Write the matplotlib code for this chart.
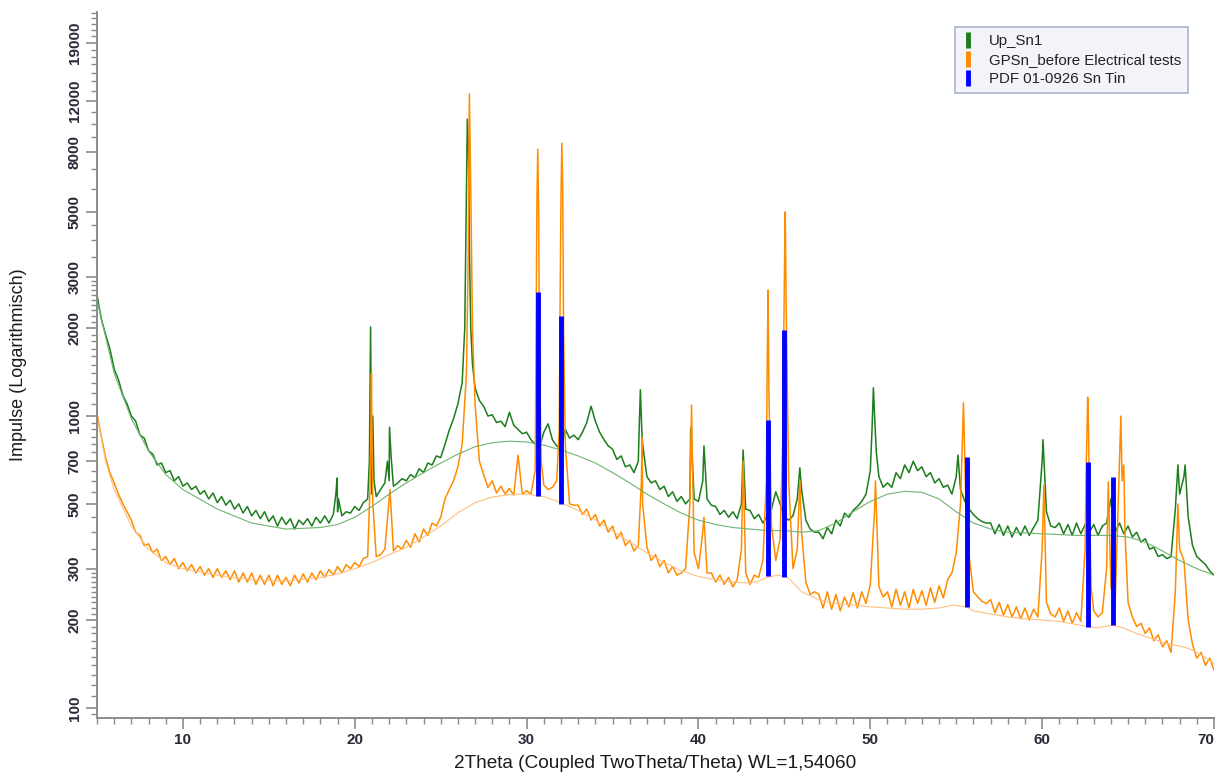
import numpy as np
import matplotlib
matplotlib.use('Agg')
from matplotlib import pyplot as plt
from matplotlib.lines import Line2D
from matplotlib.ticker import FixedLocator, NullFormatter

plt.rcParams['font.family'] = ['Liberation Sans', 'DejaVu Sans']

# scan sampling: 5..70 deg, 0.25 deg step
SCAN_START = 5.0
SCAN_STEP = 0.25

green_base = [
    2600, 2150, 1900, 1700, 1450, 1330, 1180, 1100,   # 5
    1000, 960, 860, 840, 760, 740, 680, 690,          # 7
    640, 650, 600, 620, 575, 590, 560, 575,           # 9
    540, 555, 520, 545, 505, 530, 495, 515,           # 11
    480, 500, 465, 490, 455, 475, 445, 470,           # 13
    435, 455, 420, 450, 425, 445, 410, 440,           # 15
    425, 445, 420, 450, 430, 455, 430, 460,           # 17
    470, 455, 470, 465, 490, 475, 505, 520,           # 19
    540, 530, 560, 590, 600, 575, 590, 610,           # 21
    600, 630, 615, 660, 640, 690, 680, 730,           # 23
    720, 800, 895, 980, 1100, 1300, 6000, 2000,       # 25
    1250, 1130, 1080, 1000, 1010, 950, 960, 920,      # 27
    1030, 930, 900, 870, 880, 830, 800, 780,          # 29
    880, 940, 830, 790, 770, 900, 840, 860,           # 31
    830, 880, 950, 1080, 960, 880, 830, 790,          # 33
    770, 710, 730, 670, 680, 640, 700, 800,           # 35
    620, 590, 600, 560, 575, 530, 550, 510,           # 37
    530, 500, 520, 520, 510, 600, 520, 495,           # 39
    490, 460, 475, 450, 470, 445, 500, 480,           # 41
    475, 445, 460, 430, 455, 480, 550, 500,           # 43
    450, 440, 455, 520, 560, 440, 410, 400,           # 45
    400, 380, 415, 395, 440, 420, 465, 450,           # 47
    475, 490, 510, 540, 650, 1000, 620, 570,          # 49
    590, 570, 640, 610, 680, 640, 700, 650,           # 51
    670, 620, 640, 590, 610, 570, 580, 540,           # 53
    620, 560, 510, 480, 460, 445, 435, 430,           # 55
    430, 395, 425, 390, 420, 385, 415, 390,           # 57
    420, 390, 415, 440, 700, 470, 420, 415,           # 59
    430, 395, 425, 390, 430, 395, 425, 400,           # 61
    425, 390, 420, 430, 520, 400, 430, 395,           # 63
    420, 385, 400, 370, 380, 350, 355, 330,           # 65
    335, 325, 330, 480, 540, 620, 450, 360,           # 67
    330, 320, 310, 295, 285,                          # 69
]

green_peaks = [
    (18.9, 540), (18.97, 613), (19.05, 520),
    (20.85, 700), (20.92, 2020), (21.05, 1000), (21.12, 600),
    (21.9, 700), (22.02, 915), (22.12, 720),
    (26.4, 2000), (26.55, 10400), (26.62, 8000), (26.68, 3500), (26.85, 1500),
    (36.55, 900), (36.62, 1230), (36.7, 900),
    (39.55, 910),
    (40.32, 790),
    (42.6, 765),
    (45.9, 665),
    (50.1, 900), (50.18, 1250), (50.35, 750),
    (55.1, 735),
    (60.05, 830),
    (67.9, 680),
    (68.32, 680),
]

orange_base = [
    1020, 850, 720, 640, 590, 540, 500, 470,          # 5
    440, 400, 390, 360, 365, 340, 350, 320,           # 7
    330, 310, 325, 300, 315, 295, 310, 290,           # 9
    305, 285, 300, 280, 300, 280, 295, 275,           # 11
    295, 270, 290, 270, 290, 265, 285, 265,           # 13
    285, 262, 285, 265, 280, 262, 285, 268,           # 15
    288, 270, 290, 275, 295, 280, 298, 285,           # 17
    305, 290, 310, 300, 315, 305, 325, 330,           # 19
    900, 330, 335, 350, 520, 345, 360, 350,           # 21
    375, 355, 395, 370, 410, 390, 430, 420,           # 23
    450, 520, 560, 600, 670, 800, 1400, 6000,         # 25
    1100, 700, 630, 570, 600, 545, 575, 540,          # 27
    565, 535, 735, 540, 555, 540, 650, 1500,          # 29
    580, 560, 570, 600, 5500, 800, 500, 495,          # 31
    495, 460, 480, 440, 460, 420, 440, 400,           # 33
    420, 380, 400, 360, 375, 345, 360, 500,           # 35
    355, 320, 335, 305, 320, 290, 305, 285,           # 37
    290, 300, 500, 340, 300, 400, 290, 290,           # 39
    270, 285, 265, 280, 260, 275, 350, 290,           # 41
    265, 285, 280, 320, 1500, 420, 320, 380,          # 43
    3000, 600, 300, 350, 400, 270, 245, 250,          # 45
    245, 220, 250, 218, 245, 215, 240, 222,           # 47
    248, 220, 250, 228, 265, 480, 260, 240,           # 49
    250, 222, 255, 225, 250, 220, 255, 228,           # 51
    252, 225, 258, 230, 262, 238, 275, 290,           # 53
    340, 500, 700, 330, 250, 240, 232, 228,           # 55
    235, 212, 230, 208, 226, 205, 222, 202,           # 57
    220, 200, 218, 205, 350, 230, 210, 205,           # 59
    220, 198, 215, 195, 212, 198, 350, 500,           # 61
    215, 205, 212, 300, 260, 230, 700, 680,           # 63
    230, 205, 190, 195, 180, 188, 170, 178,           # 65
    162, 170, 155, 250, 350, 320, 200, 165,           # 67
    148, 155, 140, 148, 135,                          # 69
]

orange_peaks = [
    (20.9, 600), (20.97, 1400), (21.05, 500),
    (22.05, 560),
    (26.6, 3500), (26.67, 12700), (26.85, 2000),
    (30.55, 2000), (30.6, 5500), (30.65, 8200), (30.7, 5000), (30.85, 700),
    (31.9, 900), (31.95, 2500), (32.05, 8600), (32.1, 6000), (32.15, 2000),
    (36.68, 600), (36.72, 845),
    (39.6, 1090), (39.65, 700),
    (40.32, 450),
    (42.6, 700),
    (43.95, 600), (44.05, 2700), (44.1, 1200),
    (44.9, 800), (45.05, 5000), (45.1, 2500),
    (45.9, 600),
    (50.3, 600),
    (55.35, 800), (55.42, 1110), (55.6, 400),
    (60.1, 580),
    (62.55, 600), (62.65, 1160), (62.7, 900), (62.85, 260),
    (63.85, 595),
    (64.58, 1000), (64.65, 600), (64.82, 400),
    (67.9, 500),
]

green_bg = [
    (5, 2500), (6, 1400), (7, 980), (8, 760), (9, 630), (10, 560), (12, 480),
    (14, 430), (16, 410), (18, 415), (19, 425), (20, 450), (21, 490), (22, 540),
    (23, 590), (24, 640), (25, 690), (26, 740), (27, 785), (28, 810), (29, 820),
    (30, 815), (31, 795), (32, 765), (33, 730), (34, 690), (35, 640), (36, 590),
    (37, 540), (38, 500), (39, 465), (40, 440), (41, 425), (42, 415), (43, 410),
    (44, 405), (45, 405), (46, 400), (47, 405), (48, 430), (49, 470), (50, 510),
    (51, 540), (52, 552), (53, 548), (54, 520), (55, 470), (56, 430), (57, 410),
    (58, 400), (60, 395), (62, 390), (64, 390), (65, 385), (66, 370), (67, 345),
    (68, 320), (69, 300), (70, 285),
]

orange_bg = [
    (5, 1000), (5.5, 700), (6, 560), (7, 420), (8, 350), (9, 315), (10, 300),
    (12, 285), (14, 275), (16, 272), (18, 280), (19, 288), (20, 300), (21, 315),
    (22, 335), (23, 355), (24, 385), (25, 420), (26, 466), (27, 505), (28, 528),
    (29, 538), (30, 540), (31, 530), (32, 505), (33, 475), (34, 440), (35, 405),
    (36, 370), (37, 340), (38, 315), (39, 295), (40, 282), (41, 275), (42, 270),
    (43, 268), (43.5, 272), (44, 280), (44.6, 285), (45.2, 280), (45.6, 265),
    (46, 250), (47, 235), (48, 228), (49, 225), (50, 222), (51, 220), (52, 218),
    (53, 218), (54, 220), (54.8, 225), (55.6, 222), (56, 215), (57, 210),
    (58, 205), (59, 202), (60, 200), (61, 198), (62, 193), (62.7, 190),
    (63.2, 188), (63.6, 190), (64.1, 192), (64.7, 188), (65.5, 180), (66.5, 172),
    (67, 168), (67.5, 165), (68, 163), (68.5, 160), (69, 155), (70, 142),
]

# PDF 01-0926 Sn sticks
stick_pos = [30.65, 32.0, 44.05, 45.0, 55.6, 62.65, 64.12]
stick_low = [532, 500, 284, 281, 222, 190, 192]
stick_high = [2660, 2200, 968, 1970, 724, 696, 618]

y_labels = [100, 200, 300, 500, 700, 1000, 2000, 3000, 5000, 8000, 12000, 19000]
x_labels = [10, 20, 30, 40, 50, 60, 70]
legend_labels = ['Up_Sn1', 'GPSn_before Electrical tests', 'PDF 01-0926 Sn Tin']

GREEN = '#1b7d1b'
ORANGE = '#ff8c00'
AXCOL = '#8a8a8a'
TXT = '#2a2a38'


def scan(base, peaks):
    tt = SCAN_START + SCAN_STEP * np.arange(len(base))
    px = [p[0] for p in peaks]
    py = [p[1] for p in peaks]
    x = np.concatenate([tt, px])
    y = np.concatenate([np.asarray(base, float), py])
    order = np.argsort(x, kind='stable')
    return x[order], y[order]


gx, gy = scan(green_base, green_peaks)
ox, oy = scan(orange_base, orange_peaks)

fig = plt.figure(figsize=(12.16, 7.78), dpi=100)
ax = fig.add_axes([97 / 1216, 60 / 778, 1117 / 1216, 706 / 778])

ax.plot(gx, gy, color=GREEN, lw=1.1)
ax.plot(ox, oy, color=ORANGE, lw=1.1)
ax.plot([p[0] for p in green_bg], [p[1] for p in green_bg], color='#6fb36f', lw=0.8)
ax.plot([p[0] for p in orange_bg], [p[1] for p in orange_bg], color='#ffbf80', lw=0.8)
ax.vlines(stick_pos, stick_low, stick_high, colors='#0000ff', lw=3.5)

ax.set_yscale('log')
ax.set_xlim(5, 70)
ax.set_ylim(92.4, 24200)

ax.yaxis.set_major_locator(FixedLocator(y_labels))
ax.set_yticklabels([str(v) for v in y_labels], rotation=90, va='center',
                   fontsize=11, fontweight='bold', color=TXT)
minor_y = (list(range(110, 300, 10)) + [350, 400, 450, 550, 600, 650, 750, 800, 850, 900, 950]
           + list(range(1100, 3000, 100)) + [3500, 4000, 4500, 6000, 7000, 9000, 10000, 11000]
           + list(range(13000, 19000, 1000)) + list(range(20000, 25000, 1000)) + [95])
minor_y = [v for v in minor_y if v not in y_labels]
ax.yaxis.set_minor_locator(FixedLocator(minor_y))
ax.yaxis.set_minor_formatter(NullFormatter())

ax.xaxis.set_major_locator(FixedLocator(x_labels))
ax.set_xticklabels([str(v) for v in x_labels], fontsize=11, fontweight='bold', color=TXT)
ax.get_xticklabels()[-1].set_horizontalalignment('right')
ax.xaxis.set_minor_locator(FixedLocator([v for v in range(5, 71) if v not in x_labels]))

ax.tick_params(axis='both', which='major', length=8, width=1.2, color=AXCOL, pad=3)
ax.tick_params(axis='both', which='minor', length=4.5, width=1.0, color=AXCOL)

for side in ('top', 'right'):
    ax.spines[side].set_visible(False)
for side in ('left', 'bottom'):
    ax.spines[side].set_color(AXCOL)
    ax.spines[side].set_linewidth(1.4)

ax.set_ylabel('Impulse (Logarithmisch)', fontsize=13, color='#1a1a1a')
ax.yaxis.set_label_coords(-0.0627, 0.5)
ax.set_xlabel('2Theta (Coupled TwoTheta/Theta) WL=1,54060', fontsize=13.7, color='#1a1a1a')
ax.xaxis.set_label_coords(0.4996, -0.053)

handles = [
    Line2D([], [], ls='None', marker='|', ms=11, mew=3.5, color=GREEN),
    Line2D([], [], ls='None', marker='|', ms=11, mew=3.5, color=ORANGE),
    Line2D([], [], ls='None', marker='|', ms=11, mew=3.5, color='#0000ff'),
]
leg = ax.legend(handles, legend_labels,
                loc='upper left', bbox_to_anchor=(955 / 1216, 1 - 27 / 778),
                bbox_transform=fig.transFigure, borderaxespad=0, fancybox=False,
                framealpha=1, fontsize=10.8, handlelength=0.8, handletextpad=1.0,
                labelspacing=0.35, borderpad=0.45)
leg.get_frame().set_facecolor('#f2f4f9')
leg.get_frame().set_edgecolor('#a9b6c9')
leg.get_frame().set_linewidth(1.2)
for t in leg.get_texts():
    t.set_color('#222222')

fig.savefig('out.png', dpi=100)
